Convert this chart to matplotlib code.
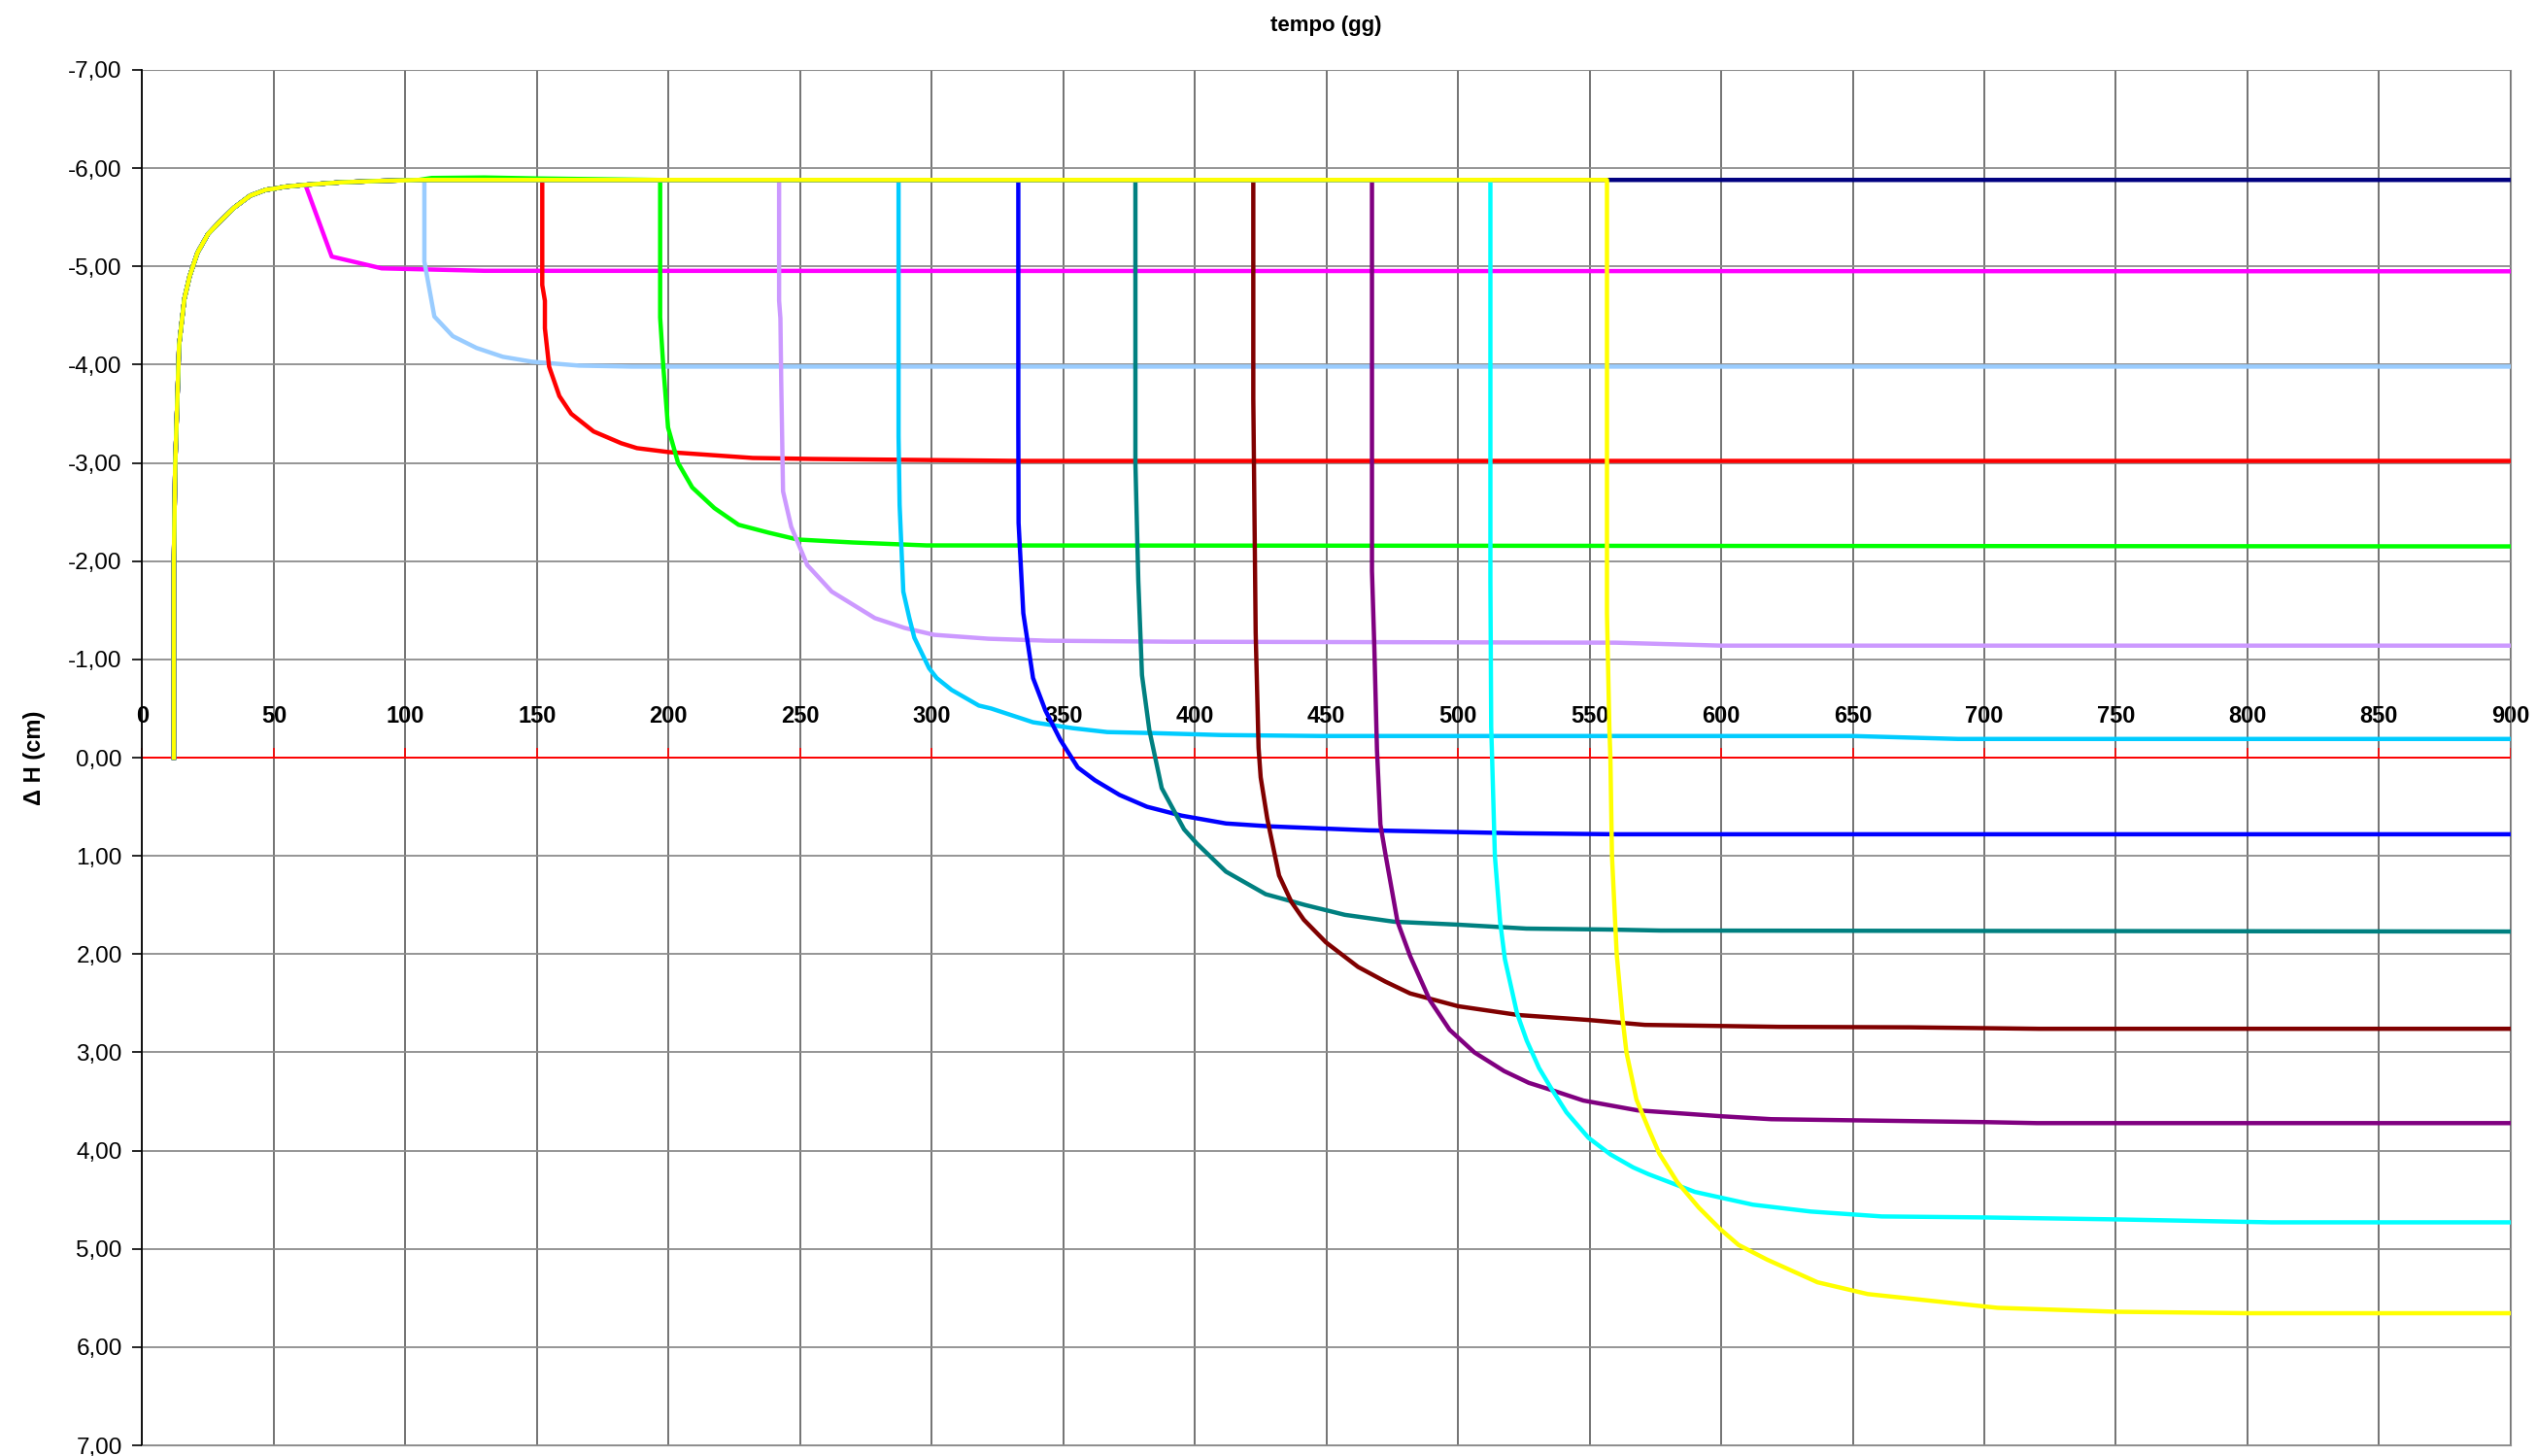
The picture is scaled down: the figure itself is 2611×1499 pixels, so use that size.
import matplotlib
matplotlib.use("Agg")
import matplotlib.pyplot as plt
from matplotlib.ticker import FuncFormatter, MultipleLocator

plt.rcParams['font.family'] = ['Liberation Sans', 'DejaVu Sans']

# common loading curve (tempo in gg, dH in cm)
load_t = [12, 12, 12.5, 14, 16, 18, 21, 25, 30, 35, 41, 47, 50, 54, 62, 75, 90, 105]
load_h = [0.0, -2.0, -2.96, -4.2, -4.67, -4.9, -5.14, -5.33, -5.47, -5.6, -5.72, -5.78, -5.79, -5.81, -5.83, -5.855, -5.87, -5.88]
plateau = -5.88
t_end = 900

# unloading branches, one per series (start time, then curve)
mag_t = [62, 72, 91, 130, 900]
mag_h = [-5.83, -5.1, -4.98, -4.955, -4.95]

lbl_t = [107.2, 107.2, 111, 118, 127, 137, 148, 166, 186, 900]
lbl_h = [plateau, -5.05, -4.49, -4.29, -4.17, -4.08, -4.03, -3.99, -3.98, -3.98]

red_t = [152, 152, 153, 153, 154.6, 158.5, 163, 171.5, 182, 188, 200, 232, 255, 334, 900]
red_h = [plateau, -4.81, -4.65, -4.37, -3.98, -3.68, -3.5, -3.32, -3.2, -3.15, -3.11, -3.05, -3.04, -3.02, -3.02]

grn_t = [110, 130, 150, 196.8, 196.8, 198, 199.8, 203.6, 209, 217.4, 226.6, 238, 249, 270, 298, 900]
grn_h = [-5.9, -5.905, -5.895, plateau, -4.48, -3.98, -3.36, -3.0, -2.75, -2.54, -2.37, -2.29, -2.22, -2.19, -2.16, -2.15]

lav_t = [242, 242, 242.5, 242.8, 243.5, 246.6, 252.7, 262, 278.4, 289.7, 300.9, 321.6, 344, 391, 560, 600, 900]
lav_h = [plateau, -4.65, -4.47, -3.83, -2.71, -2.35, -1.96, -1.69, -1.42, -1.32, -1.25, -1.21, -1.19, -1.18, -1.17, -1.14, -1.14]

sky_t = [287.4, 287.4, 287.8, 289.2, 291.5, 293.4, 299, 301.9, 307.5, 317.9, 322.6, 338.5, 353.6, 366.7, 383.6, 410, 447.6, 650, 690, 900]
sky_h = [plateau, -3.27, -2.57, -1.69, -1.42, -1.22, -0.91, -0.81, -0.69, -0.53, -0.5, -0.36, -0.3, -0.26, -0.25, -0.23, -0.22, -0.22, -0.19, -0.19]

blu_t = [332.9, 332.9, 333, 334.8, 338.5, 343.2, 348.9, 355.5, 362, 371.4, 381.8, 394.9, 411.8, 428.8, 466, 522.7, 560, 900]
blu_h = [plateau, -3.39, -2.39, -1.47, -0.81, -0.48, -0.18, 0.10, 0.23, 0.38, 0.50, 0.59, 0.67, 0.70, 0.74, 0.77, 0.78, 0.78]

tea_t = [377.4, 377.4, 378.5, 379.9, 382.7, 387.4, 395.9, 400.6, 411.8, 426.9, 441.9, 457, 475.7, 500, 526, 558, 577, 900]
tea_h = [plateau, -3.0, -1.8, -0.84, -0.28, 0.31, 0.73, 0.87, 1.16, 1.39, 1.5, 1.6, 1.67, 1.70, 1.74, 1.75, 1.76, 1.77]

drd_t = [422.2, 422.2, 423.1, 424.2, 425, 427.5, 432, 436.7, 441.4, 449.8, 462, 472.4, 481.8, 500, 523, 549.5, 571, 622, 672, 721, 900]
drd_h = [plateau, -3.65, -1.27, -0.1, 0.2, 0.62, 1.2, 1.47, 1.65, 1.88, 2.13, 2.28, 2.4, 2.53, 2.62, 2.67, 2.72, 2.74, 2.745, 2.76, 2.76]

pur_t = [467.3, 467.3, 468.2, 469.2, 470.5, 472.4, 477, 481.8, 489.3, 496.8, 506.2, 517.5, 526.9, 536.3, 547.6, 568.2, 600, 619, 701, 720, 900]
pur_h = [plateau, -1.9, -1.12, -0.08, 0.68, 0.98, 1.67, 2.02, 2.47, 2.77, 3.0, 3.19, 3.31, 3.39, 3.49, 3.59, 3.65, 3.68, 3.71, 3.72, 3.72]

cya_t = [512.3, 512.3, 512.6, 513, 514, 516, 517.8, 522.4, 526.1, 530.8, 535.5, 541.2, 549.6, 558, 566.5, 572.4, 590, 612, 634, 661, 700, 750, 809, 900]
cya_h = [plateau, -1.8, -0.31, 0.05, 1.0, 1.67, 2.05, 2.6, 2.88, 3.16, 3.37, 3.61, 3.87, 4.04, 4.17, 4.24, 4.42, 4.55, 4.62, 4.67, 4.68, 4.7, 4.73, 4.73]

yel_t = [556.6, 556.6, 557.5, 557.9, 558.5, 560.3, 562.5, 564, 567.8, 572.6, 576.5, 583.3, 591.5, 599.7, 606.6, 617.5, 636.6, 655.7, 705, 750, 800, 900]
yel_h = [plateau, -1.47, -0.31, 0.0, 1.0, 2.0, 2.65, 3.0, 3.48, 3.79, 4.03, 4.32, 4.58, 4.8, 4.96, 5.11, 5.34, 5.46, 5.6, 5.64, 5.655, 5.655]

branches = [
    ([t_end], [plateau], '#000080'),
    (mag_t, mag_h, '#FF00FF'),
    (lbl_t, lbl_h, '#99CCFF'),
    (red_t, red_h, '#FF0000'),
    (grn_t, grn_h, '#00FF00'),
    (lav_t, lav_h, '#CC99FF'),
    (sky_t, sky_h, '#00CCFF'),
    (blu_t, blu_h, '#0000FF'),
    (tea_t, tea_h, '#008080'),
    (drd_t, drd_h, '#800000'),
    (pur_t, pur_h, '#800080'),
    (cya_t, cya_h, '#00FFFF'),
    (yel_t, yel_h, '#FFFF00'),
]

xticks = list(range(0, 901, 50))

fig = plt.figure(figsize=(26.11, 14.99), dpi=100)
ax = fig.add_axes([0.0561, 0.0073, 0.9339, 0.9447])

for bt, bh, col in branches:
    t0 = bt[0]
    xs = [t for t in load_t if t < t0] + bt
    ys = [h for t, h in zip(load_t, load_h) if t < t0] + bh
    ax.plot(xs, ys, color=col, lw=3.2, solid_joinstyle='round', zorder=3)

ax.set_xlim(0, 900)
ax.set_ylim(7, -7)
ax.yaxis.set_major_locator(MultipleLocator(1))
ax.yaxis.set_major_formatter(FuncFormatter(lambda v, p: f"{v:.2f}".replace('.', ',')))
ax.set_xticks(xticks)

ax.grid(True, axis='x', color='#4d4d4d', lw=1.1)
ax.grid(True, axis='y', color='#8c8c8c', lw=1.3)

# x axis sits on the zero line, labels above it
ax.xaxis.tick_top()
ax.spines['top'].set_position(('data', 0))
ax.spines['top'].set_color('#FF0000')
ax.spines['top'].set_linewidth(1.4)
ax.spines['top'].set_zorder(2)
ax.tick_params(axis='x', direction='out', length=7, width=1.2, color='#FF0000',
               pad=15, labelsize=17)
for lab in ax.get_xticklabels():
    lab.set_fontweight('bold')

ax.spines['bottom'].set_color('#8c8c8c')
ax.spines['right'].set_color('#8c8c8c')
ax.spines['left'].set_color('black')
ax.spines['left'].set_linewidth(1.3)
ax.tick_params(axis='y', direction='out', length=7, width=1.2, pad=8, labelsize=17.5)

# top border at -7
ax.axhline(-7, color='#8c8c8c', lw=1.5, zorder=1)

ax.set_ylabel('\u0394 H (cm)', fontsize=17, fontweight='bold')
ax.yaxis.set_label_coords(-0.041, 0.5)
fig.text(0.523, 0.982, 'tempo (gg)', ha='center', va='center', fontsize=16, fontweight='bold')

fig.savefig('out.png', dpi=100)
